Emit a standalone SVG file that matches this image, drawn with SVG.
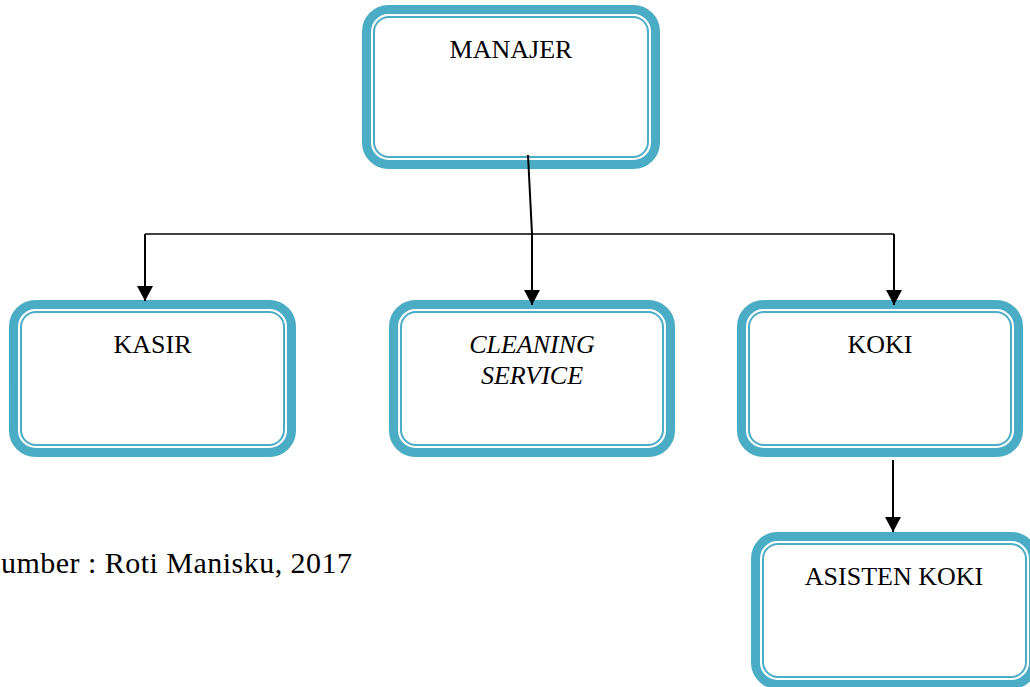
<svg xmlns="http://www.w3.org/2000/svg" width="1030" height="687" viewBox="0 0 1030 687">
<style>
.outer{fill:#ffffff;stroke:#4BACC6;stroke-width:9}
.inner{fill:none;stroke:#4BACC6;stroke-width:2}
.lbl{font-family:"Liberation Serif","Times New Roman",serif;font-size:26px;fill:#000;text-anchor:middle}
.it{font-style:italic}
.cap{font-family:"Liberation Serif","Times New Roman",serif;font-size:30px;fill:#000}
.conn{fill:none;stroke:#000;stroke-width:2}
.hline{fill:none;stroke:#000;stroke-width:1.6}
</style>
<defs>
<marker id="arr" viewBox="0 0 15 16" refX="15" refY="8" markerWidth="15" markerHeight="16" markerUnits="userSpaceOnUse" orient="auto">
<path d="M0,0 L15,8 L0,16 z" fill="#000"/>
</marker>
</defs>
<rect width="1030" height="687" fill="#ffffff"/>
<g id="manajer">
<rect class="outer" x="366.5" y="9.5" width="289" height="155" rx="22"/>
<rect class="inner" x="374" y="17" width="274" height="140" rx="15"/>
<text class="lbl" x="511" y="58">MANAJER</text>
</g>
<g id="kasir">
<rect class="outer" x="13.5" y="304.5" width="278" height="148" rx="22"/>
<rect class="inner" x="21" y="312" width="263" height="133" rx="15"/>
<text class="lbl" x="152.5" y="353">KASIR</text>
</g>
<g id="cleaning">
<rect class="outer" x="393.5" y="304.5" width="277" height="148" rx="22"/>
<rect class="inner" x="401" y="312" width="262" height="133" rx="15"/>
<text class="lbl it" x="532" y="353">CLEANING</text>
<text class="lbl it" x="532" y="384">SERVICE</text>
</g>
<g id="koki">
<rect class="outer" x="741.5" y="304.5" width="277" height="148" rx="22"/>
<rect class="inner" x="749" y="312" width="262" height="133" rx="15"/>
<text class="lbl" x="880" y="353">KOKI</text>
</g>
<g id="asisten">
<rect class="outer" x="755.5" y="536.5" width="278" height="148" rx="22"/>
<rect class="inner" x="763" y="544" width="263" height="133" rx="15"/>
<text class="lbl" x="894" y="585">ASISTEN KOKI</text>
</g>
<g id="connectors">
<path class="hline" d="M145,234 L894,234"/>
<path class="conn" d="M145,234 L145,301" marker-end="url(#arr)"/>
<path class="conn" d="M528,155 L532,234 L532,305" marker-end="url(#arr)"/>
<path class="conn" d="M894,234 L894,305" marker-end="url(#arr)"/>
<path class="conn" d="M893,460 L893,532" marker-end="url(#arr)"/>
</g>
<text class="cap" x="1" y="573" textLength="351" lengthAdjust="spacing">umber : Roti Manisku, 2017</text>
</svg>
